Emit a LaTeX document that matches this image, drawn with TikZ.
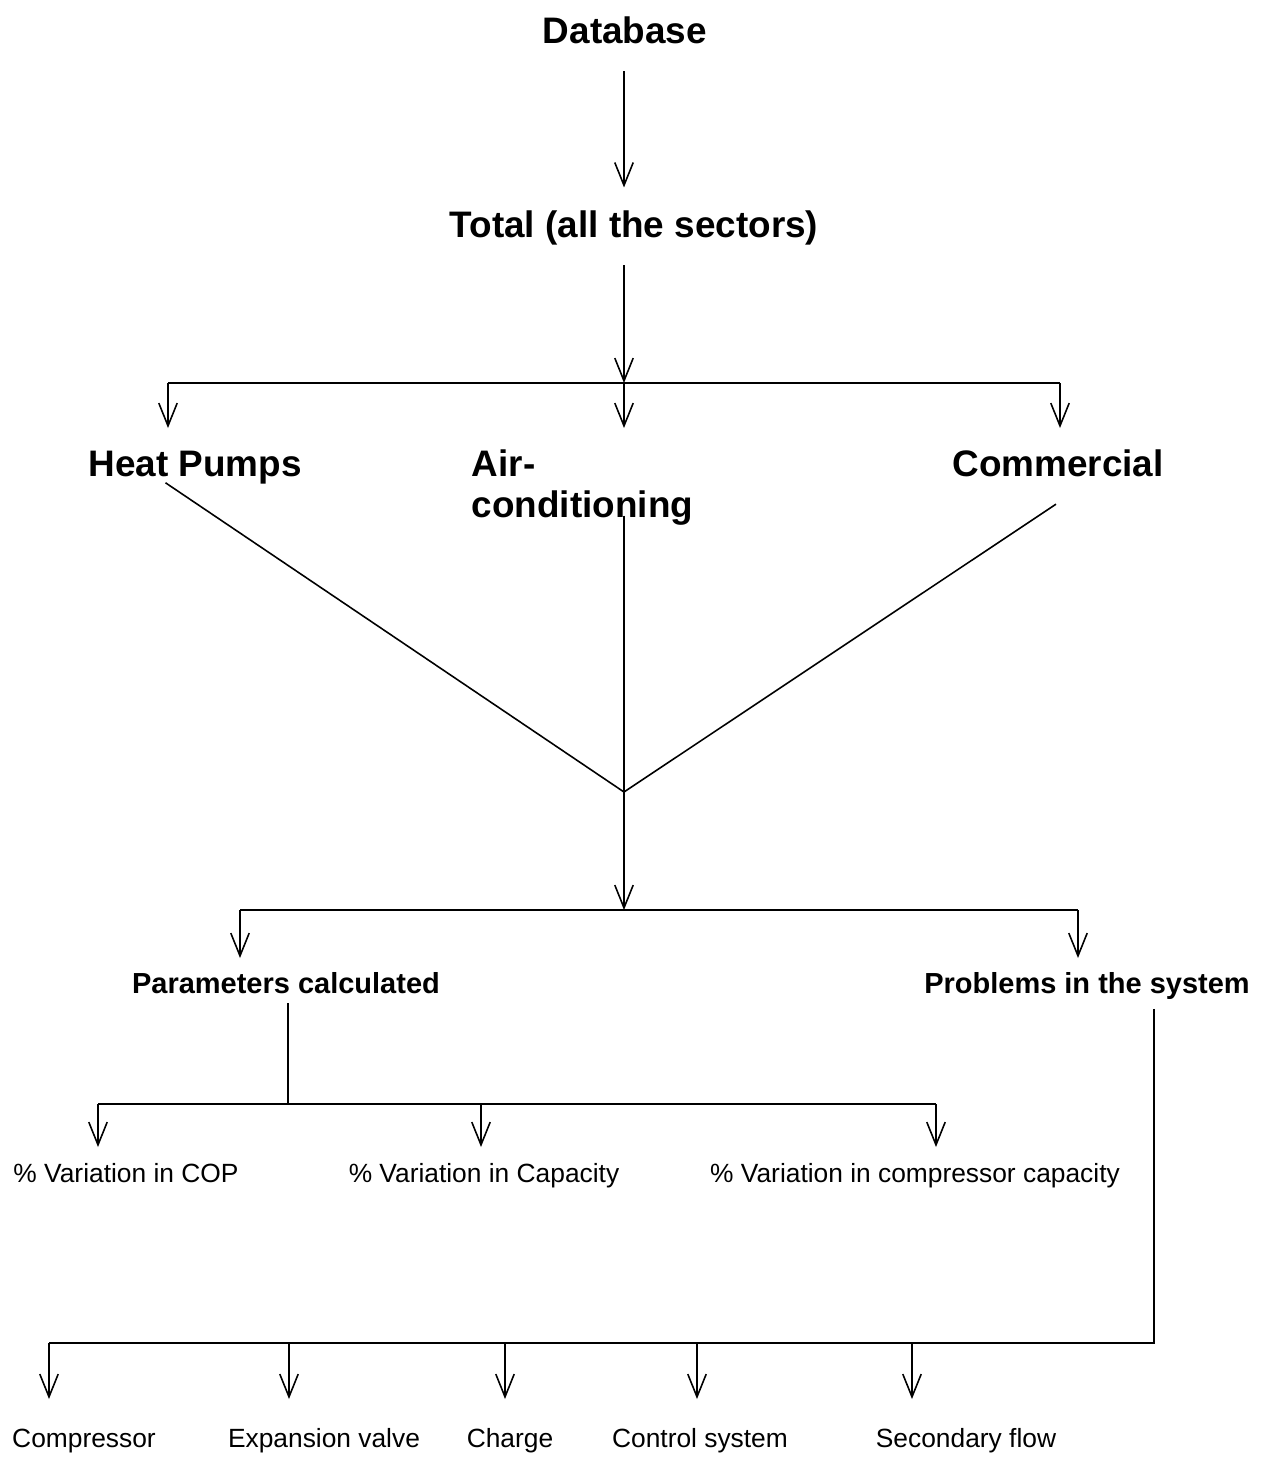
\documentclass[tikz,border=0pt]{standalone}
\usepackage{fontspec}
\setmainfont{Liberation Sans}
\usetikzlibrary{arrows.meta}
\tikzset{
  big/.style={font=\fontsize{21}{23.2}\selectfont\bfseries,inner sep=0pt,anchor=base},
  mid/.style={font=\fontsize{16.5}{19}\selectfont\bfseries,inner sep=0pt,anchor=base},
  small/.style={font=\fontsize{15}{18}\selectfont,inner sep=0pt,anchor=base},
  arr/.style={-{Straight Barb[length=13pt,width=10.5pt]}}
}
\begin{document}
\begin{tikzpicture}[x=0.02cm,y=-0.02cm,line width=0.9pt]
                \useasboundingbox (0,0) rectangle (1271,1461);
                \node[big] (db) at (625,43) {Database};
                \node[big] (tot) at (634,237) {Total (all the sectors)};
                \node[big] (hp) at (195,476) {Heat Pumps};
                \node[big,anchor=base west,align=left] (ac) at (471,517) {Air-\\conditioning};
                \node[big] (cm) at (1058,476) {Commercial};
                \node[mid] (par) at (286,993) {Parameters calculated};
                \node[mid] (prb) at (1087,993) {Problems in the system};
                \node[small] (cop) at (126,1182) {\% Variation in COP};
                \node[small] (cap) at (484,1182) {\% Variation in Capacity};
                \node[small] (ccap) at (915,1182) {\% Variation in compressor capacity};
                \node[small] (comp) at (84,1447) {Compressor};
                \node[small] (exp) at (324,1447) {Expansion valve};
                \node[small] (chg) at (510,1447) {Charge};
                \node[small] (ctl) at (700,1447) {Control system};
                \node[small] (sec) at (966,1447) {Secondary flow};
                \coordinate (j1) at (624,383);
                \coordinate (b1l) at (168,383);
                \coordinate (b1r) at (1060,383);
                \coordinate (j2) at (624,792);
                \coordinate (j3) at (624,910);
                \coordinate (b2l) at (240,910);
                \coordinate (b2r) at (1078,910);
                \coordinate (j4) at (288,1104);
                \coordinate (b3l) at (98,1104);
                \coordinate (b3m) at (481,1104);
                \coordinate (b3r) at (936,1104);
                \coordinate (j5) at (1154,1343);
                \coordinate (b4a) at (49,1343);
                \coordinate (b4b) at (289,1343);
                \coordinate (b4c) at (505,1343);
                \coordinate (b4d) at (697,1343);
                \coordinate (b4e) at (912,1343);
                \draw[arr,shorten <=0.54cm,shorten >=0.44cm] (db.south -| j1) -- (tot.north -| j1);
                \draw[arr,shorten <=0.4cm] (tot.south -| j1) -- (j1);
                \draw (b1l) -- (b1r);
                \draw[arr] (b1l) -- +(0,45);
                \draw[arr] (j1) -- +(0,45);
                \draw[arr] (b1r) -- +(0,45);
                \draw[shorten <=-0.06cm] (hp.south -| b1l) -- (j2);
                \draw[shorten <=-0.2cm] (ac.south -| j2) -- (j2);
                \draw ([xshift=-0.04cm,yshift=-0.54cm]cm.south) -- (j2);
                \draw[arr] (j2) -- (j3);
                \draw (b2l) -- (b2r);
                \draw[arr] (b2l) -- +(0,48);
                \draw[arr] (b2r) -- +(0,48);
                \draw[shorten <=0.18cm] (par.south -| j4) -- (j4);
                \draw (b3l) -- (b3r);
                \draw[arr] (b3l) -- +(0,43);
                \draw[arr] (b3m) -- +(0,43);
                \draw[arr] (b3r) -- +(0,43);
                \draw[shorten <=0.18cm] (prb.south -| j5) -- (j5) -- (b4a);
                \draw[arr] (b4a) -- +(0,56);
                \draw[arr] (b4b) -- +(0,56);
                \draw[arr] (b4c) -- +(0,56);
                \draw[arr] (b4d) -- +(0,56);
                \draw[arr] (b4e) -- +(0,56);
            \end{tikzpicture}
\end{document}
